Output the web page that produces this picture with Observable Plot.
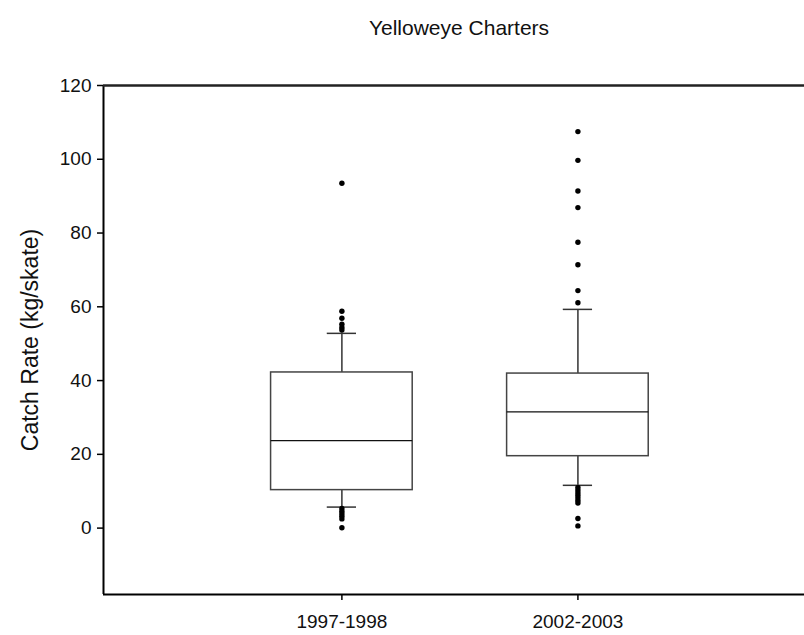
<!DOCTYPE html>
<html>
<head>
<meta charset="utf-8">
<script src="https://cdn.jsdelivr.net/npm/d3@7"></script>
<script src="https://cdn.jsdelivr.net/npm/@observablehq/plot@0.6"></script>
<style>
  html, body { margin: 0; padding: 0; background: #fff; overflow: hidden; }
  #title { height: 48px; line-height: 56px; text-align: center; width: 804px;
           font-family: "Liberation Sans", Arial, sans-serif; font-size: 21px; color: #111;
           padding-left: 114px; box-sizing: border-box; }
</style>
</head>
<body>
<div id="title">Yelloweye Charters</div>
<div id="chart"></div>
<script>
const groups = ["1997-1998", "2002-2003"];
const q1 = [10.3, 19.5];
const median = [23.7, 31.5];
const q3 = [42.2, 41.9];
const whiskerLow = [5.7, 11.6];
const whiskerHigh = [52.8, 59.3];
const outliers1997 = [93.5, 58.8, 56.9, 55.3, 54.4, 53.7, 5.3, 4.6, 3.9, 3.2, 2.5, 0.1];
const outliers2002 = [107.5, 99.7, 91.4, 86.9, 77.5, 71.4, 64.4, 61.1, 11.0, 10.3, 9.6, 8.9, 8.2, 7.5, 6.8, 2.6, 0.6];
const yTicks = [0, 20, 40, 60, 80, 100, 120];

const boxes = groups.map((g, i) => ({
  group: g, pos: i + 1,
  q1: q1[i], median: median[i], q3: q3[i], lo: whiskerLow[i], hi: whiskerHigh[i]
}));
const outlierLists = [outliers1997, outliers2002];
const points = outlierLists.flatMap((list, i) => list.map(v => ({pos: i + 1, value: v})));

const half = 0.30, cap = 0.062;
const xDomain = [-0.01, 2.96];
const yDomain = [-18, 120];
const font = "Liberation Sans, Arial, sans-serif";

const chart = Plot.plot({
  width: 804,
  height: 587,
  marginLeft: 103,
  marginRight: 0,
  marginTop: 37,
  marginBottom: 41,
  style: {fontFamily: font, fontSize: "19px", color: "#111", background: "#fff"},
  x: {type: "linear", domain: xDomain, axis: null},
  y: {domain: yDomain, axis: null},
  marks: [
    Plot.axisY({ticks: yTicks, tickSize: 6, tickPadding: 6, label: null, stroke: "#000", strokeWidth: 1.5, fontSize: 19}),
    Plot.axisX({ticks: boxes.map(d => d.pos), tickFormat: d => groups[d - 1], tickSize: 6, tickPadding: 14, label: null, stroke: "#000", strokeWidth: 1.5, fontSize: 19}),
    Plot.ruleX([xDomain[0]], {y1: yDomain[0], y2: yDomain[1], stroke: "#000", strokeWidth: 2}),
    Plot.ruleY([yDomain[0]], {stroke: "#000", strokeWidth: 2}),
    Plot.ruleY([yDomain[1]], {stroke: "#222", strokeWidth: 2.5}),
    Plot.text(["Catch Rate (kg/skate)"], {frameAnchor: "left", textAnchor: "middle", lineAnchor: "middle", rotate: -90, dx: -73, fontSize: 23, fill: "#111"}),
    Plot.ruleX(boxes, {x: "pos", y1: "q3", y2: "hi", stroke: "#333", strokeWidth: 1.5}),
    Plot.ruleX(boxes, {x: "pos", y1: "lo", y2: "q1", stroke: "#333", strokeWidth: 1.5}),
    Plot.ruleY(boxes, {y: "hi", x1: d => d.pos - cap, x2: d => d.pos + cap, stroke: "#333", strokeWidth: 1.5}),
    Plot.ruleY(boxes, {y: "lo", x1: d => d.pos - cap, x2: d => d.pos + cap, stroke: "#333", strokeWidth: 1.5}),
    Plot.rect(boxes, {x1: d => d.pos - half, x2: d => d.pos + half, y1: "q1", y2: "q3", fill: "#fff", stroke: "#444", strokeWidth: 1.5}),
    Plot.ruleY(boxes, {y: "median", x1: d => d.pos - half, x2: d => d.pos + half, stroke: "#111", strokeWidth: 1.2}),
    Plot.dot(points, {x: "pos", y: "value", r: 2.7, fill: "#000", stroke: "none"})
  ]
});
document.getElementById("chart").appendChild(chart);
</script>
</body>
</html>
